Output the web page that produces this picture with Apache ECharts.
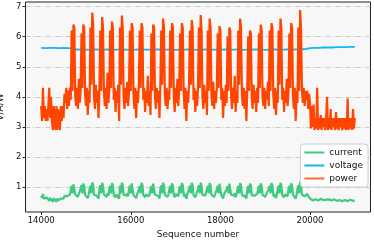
<!DOCTYPE html>
<html><head><meta charset="utf-8">
<script src="https://cdn.jsdelivr.net/npm/echarts@6/dist/echarts.min.js"></script>
<style>html,body{margin:0;padding:0;background:#fff}#c{width:374px;height:240px}</style>
</head><body><div id="c"></div>
<script>
// sample spacing of the sequence numbers
const seqStart = 14000, seqStep = 20;
const power = [
3.7,3.2,4.3,3.3,3.7,3.2,3.6,3.2,3.7,4.3,
3.3,4.0,3.2,2.9,3.7,3.2,2.9,3.7,2.9,3.6,
3.2,2.9,3.7,3.2,3.7,3.3,4.1,3.8,4.3,3.6,
4.2,3.7,4.3,3.9,6.2,4.2,6.4,6.3,4.0,3.7,
4.3,3.6,4.6,3.8,4.2,6.1,4.3,6.4,6.3,4.1,
3.7,4.3,3.4,4.2,3.8,6.3,4.4,6.8,6.4,4.0,
3.6,4.4,3.8,4.2,3.3,4.3,6.2,4.2,6.65,6.3,
4.2,3.7,4.3,3.6,4.8,3.8,4.2,6.2,4.3,6.5,
6.3,3.9,4.3,3.5,4.2,3.8,4.4,3.2,6.3,4.4,
6.7,6.3,4.0,3.6,4.3,3.8,4.5,3.7,4.2,6.2,
4.2,6.45,6.3,4.1,3.6,4.3,3.3,4.2,3.8,4.4,
6.2,4.3,6.45,6.3,3.9,4.3,3.5,4.2,3.8,4.7,
3.7,4.2,3.4,6.1,4.2,6.4,6.3,4.0,3.6,4.3,
3.8,4.2,3.3,4.4,6.2,4.4,6.6,6.3,4.1,3.7,
4.3,3.6,4.2,3.9,6.2,4.3,6.45,6.3,4.0,3.5,
4.3,3.8,4.6,3.7,4.2,6.1,4.2,6.45,6.3,4.2,
3.6,4.3,3.2,4.2,3.8,4.4,6.2,4.4,6.55,6.3,
3.9,4.3,3.5,4.2,3.7,4.3,6.3,4.3,6.72,6.2,
4.0,3.6,4.4,3.8,4.2,3.4,6.2,4.2,6.6,6.3,
4.1,3.7,4.5,3.6,4.2,3.8,4.3,6.1,4.3,6.35,
6.2,3.9,4.3,3.3,4.2,3.7,4.4,3.8,6.0,4.2,
6.3,6.2,4.0,3.6,4.3,3.8,4.7,3.5,4.2,3.8,
6.2,4.4,6.6,6.3,4.1,3.7,4.3,3.6,4.2,3.2,
4.3,6.0,4.2,6.2,6.1,4.0,3.6,4.4,3.8,4.2,
3.5,4.3,3.8,6.1,4.3,6.4,6.2,4.0,3.7,4.3,
3.6,4.2,3.9,4.5,3.7,6.2,4.2,6.45,6.3,4.1,
3.6,4.3,3.4,4.2,3.8,6.2,4.4,6.6,6.3,3.9,
4.3,3.5,4.2,3.8,4.6,3.7,4.2,6.1,4.3,6.45,
6.3,4.0,3.6,4.3,3.2,4.2,3.8,6.3,4.2,6.88,
6.2,4.2,3.8,4.3,3.7,4.2,3.9,4.2,3.6,4.1,
3.8,2.95,3.7,3.0,3.75,2.9,3.3,2.95,4.3,2.9,
3.3,2.95,3.4,2.9,3.3,3.0,3.3,2.9,3.3,4.0,
2.9,3.3,2.95,3.6,2.9,3.3,3.0,3.3,2.9,3.5,
2.95,3.3,2.9,3.3,3.0,3.3,2.9,3.3,2.95,3.3,
2.9,3.0,3.95,2.9,3.3,2.95,3.3,2.9,3.6,2.95,
3.3
];
const current = [
0.72,0.65,0.78,0.62,0.68,0.58,0.66,0.6,0.64,0.55,
0.65,0.6,0.62,0.52,0.64,0.58,0.62,0.52,0.63,0.56,
0.61,0.53,0.63,0.58,0.64,0.62,0.72,0.68,0.75,0.7,
0.74,0.69,0.76,0.72,1.05,0.8,1.1,1.06,0.76,0.7,
0.75,0.68,0.78,0.72,0.95,1.08,0.8,1.12,1.04,0.74,
0.7,0.78,0.64,0.76,0.93,1.06,0.8,1.16,1.08,0.75,
0.69,0.78,0.72,0.76,0.62,0.95,1.07,0.8,1.15,1.06,
0.76,0.7,0.78,0.68,0.8,0.72,0.94,1.05,0.8,1.14,
1.07,0.74,0.78,0.66,0.76,0.71,0.79,0.62,1.06,0.8,
1.15,1.08,0.75,0.69,0.78,0.72,0.8,0.7,0.95,1.06,
0.8,1.13,1.07,0.74,0.68,0.78,0.64,0.76,0.72,0.93,
1.05,0.8,1.15,1.07,0.74,0.78,0.67,0.76,0.71,0.8,
0.7,0.77,0.94,1.04,0.8,1.12,1.06,0.75,0.69,0.78,
0.72,0.76,0.63,0.95,1.06,0.8,1.15,1.07,0.75,0.7,
0.78,0.68,0.76,0.93,1.05,0.8,1.13,1.06,0.74,0.67,
0.78,0.72,0.8,0.7,0.94,1.05,0.8,1.14,1.07,0.76,
0.68,0.78,0.62,0.76,0.72,0.95,1.06,0.8,1.15,1.07,
0.74,0.78,0.67,0.76,0.7,0.94,1.07,0.8,1.16,1.05,
0.75,0.69,0.79,0.72,0.76,0.93,1.05,0.8,1.14,1.06,
0.75,0.7,0.8,0.68,0.76,0.72,0.94,1.05,0.8,1.12,
1.06,0.74,0.78,0.63,0.76,0.71,0.79,0.94,1.04,0.8,
1.12,1.06,0.75,0.69,0.78,0.72,0.8,0.67,0.76,0.93,
1.05,0.8,1.14,1.06,0.75,0.7,0.78,0.68,0.76,0.62,
0.94,1.04,0.8,1.12,1.05,0.74,0.69,0.79,0.72,0.76,
0.67,0.78,0.93,1.05,0.8,1.13,1.06,0.75,0.7,0.78,
0.68,0.76,0.72,0.8,0.94,1.05,0.8,1.14,1.07,0.75,
0.68,0.78,0.64,0.76,0.93,1.06,0.8,1.15,1.07,0.74,
0.78,0.67,0.76,0.72,0.8,0.7,0.94,1.05,0.8,1.13,
1.06,0.75,0.69,0.78,0.62,0.76,0.94,1.07,0.8,1.18,
1.06,0.76,0.72,0.78,0.7,0.76,0.72,0.78,0.7,0.74,
0.63,0.57,0.62,0.56,0.61,0.55,0.6,0.57,0.63,0.56,
0.6,0.55,0.62,0.56,0.6,0.57,0.61,0.55,0.59,0.62,
0.56,0.6,0.55,0.61,0.56,0.59,0.55,0.6,0.56,0.59,
0.55,0.6,0.56,0.58,0.55,0.6,0.54,0.59,0.56,0.58,
0.55,0.59,0.54,0.58,0.56,0.59,0.54,0.58,0.55,0.57,
0.56
];
const voltStart = 14000, voltStep = 100;
const voltage = [
5.63,5.62,5.63,5.63,5.62,5.63,5.62,5.61,
5.57,5.58,5.57,5.56,5.58,5.57,5.57,5.58,5.56,5.57,
5.58,5.57,5.56,5.57,5.58,5.57,5.57,5.56,5.58,5.57,
5.57,5.58,5.56,5.57,5.57,5.58,5.57,5.56,5.57,5.58,
5.57,5.57,5.56,5.58,5.57,5.57,5.58,5.56,5.57,5.57,
5.58,5.57,5.56,5.57,5.58,5.57,5.57,5.58,5.57,5.58,
5.58,5.59,
5.62,5.63,5.63,5.64,5.64,5.64,5.65,5.65,5.65,5.66,5.66
];
const xTicks = [14000, 16000, 18000, 20000];
const yTicks = [1, 2, 3, 4, 5, 6, 7];

const pair = (arr, start, step) => arr.map((v, i) => [start + i * step, v]);

const chart = echarts.init(document.getElementById('c'), null, {renderer: 'canvas'});
const font = 'DejaVu Sans';
chart.setOption({
  animation: false,
  textStyle: {fontFamily: font},
  grid: {left: 25.5, right: 3.5, top: 2, bottom: 28, containLabel: false, outerBoundsMode: 'none',
         show: true, backgroundColor: '#f7f7f7', borderColor: '#222', borderWidth: 1},
  xAxis: {
    type: 'value', min: 13650, max: 21350,
    name: 'Sequence number', nameLocation: 'middle', nameGap: 18,
    nameTextStyle: {fontSize: 9, color: '#111', fontFamily: font},
    axisLine: {show: false},
    axisTick: {show: true, length: 3, customValues: xTicks, lineStyle: {color: '#222'}},
    axisLabel: {customValues: xTicks, formatter: v => String(v), fontSize: 8.5, color: '#111', margin: 4, fontFamily: font},
    splitLine: {show: false}
  },
  yAxis: {
    type: 'value', min: 0.18, max: 7.15,
    name: 'V/A/W', nameLocation: 'middle', nameGap: 14, nameRotate: 90,
    nameTextStyle: {fontSize: 9, color: '#111', fontFamily: font},
    axisLine: {show: false},
    axisTick: {show: true, length: 3, customValues: yTicks, lineStyle: {color: '#222'}},
    axisLabel: {customValues: yTicks, formatter: v => String(v), fontSize: 8.5, color: '#111', margin: 4, fontFamily: font},
    splitLine: {show: true, lineStyle: {color: '#bdbdbd', width: 0.8, type: [5, 2, 1, 2]}}
  },
  legend: {
    orient: 'vertical', right: 6, top: 144,
    data: ['current', 'voltage', 'power'],
    icon: 'rect', itemWidth: 20, itemHeight: 2, itemGap: 4,
    backgroundColor: 'rgba(255,255,255,0.85)', borderColor: '#cccccc', borderWidth: 1, borderRadius: 3,
    padding: [4, 5, 4, 4],
    textStyle: {fontSize: 9, color: '#111', fontFamily: font}
  },
  series: [
    {name: 'current', type: 'line', data: pair(current, seqStart, seqStep), showSymbol: false, symbol: 'none',
     color: '#3ecb80', lineStyle: {width: 2.2, color: '#3ecb80'}, z: 1},
    {name: 'voltage', type: 'line', data: pair(voltage, voltStart, voltStep), showSymbol: false, symbol: 'none',
     color: '#12b8f2', lineStyle: {width: 1.8, color: '#12b8f2'}, z: 2},
    {name: 'power', type: 'line', data: pair(power, seqStart, seqStep), showSymbol: false, symbol: 'none',
     color: '#ff6a33', lineStyle: {width: 2.2, color: '#ff4500'}, z: 3}
  ]
});
</script>
</body></html>
